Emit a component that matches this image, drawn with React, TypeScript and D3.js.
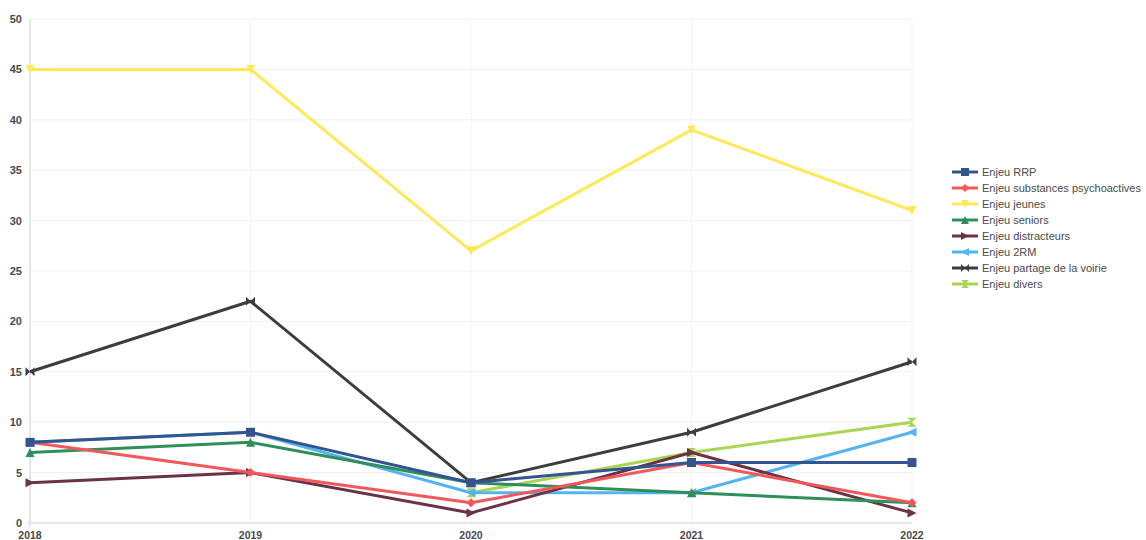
import React from "react";
import * as d3 from "d3";

const years = ["2018", "2019", "2020", "2021", "2022"];
const yTicks = [0, 5, 10, 15, 20, 25, 30, 35, 40, 45, 50];

const rrp = [8, 9, 4, 6, 6];
const substances = [8, 5, 2, 6, 2];
const jeunes = [45, 45, 27, 39, 31];
const seniors = [7, 8, 4, 3, 2];
const distracteurs = [4, 5, 1, 7, 1];
const deuxRM = [8, 9, 3, 3, 9];
const partage = [15, 22, 4, 9, 16];
const divers: (number | null)[] = [null, null, 3, 7, 10];

type Shape = "square" | "diamond" | "down" | "up" | "right" | "left" | "bowtie" | "hourglass";

const series: { name: string; values: (number | null)[]; color: string; shape: Shape }[] = [
  { name: "Enjeu RRP", values: rrp, color: "#34548f", shape: "square" },
  { name: "Enjeu substances psychoactives", values: substances, color: "#f2585a", shape: "diamond" },
  { name: "Enjeu jeunes", values: jeunes, color: "#fde95a", shape: "down" },
  { name: "Enjeu seniors", values: seniors, color: "#2f8e5a", shape: "up" },
  { name: "Enjeu distracteurs", values: distracteurs, color: "#6a3346", shape: "right" },
  { name: "Enjeu 2RM", values: deuxRM, color: "#53b5ee", shape: "left" },
  { name: "Enjeu partage de la voirie", values: partage, color: "#3d3d3d", shape: "bowtie" },
  { name: "Enjeu divers", values: divers, color: "#a9d552", shape: "hourglass" },
];

function markerPath(shape: Shape, s: number): string {
  const h = s / 2;
  switch (shape) {
    case "square":
      return `M${-h},${-h}H${h}V${h}H${-h}Z`;
    case "diamond":
      return `M0,${-h}L${h},0L0,${h}L${-h},0Z`;
    case "down":
      return `M${-h},${-h}H${h}L0,${h}Z`;
    case "up":
      return `M${-h},${h}H${h}L0,${-h}Z`;
    case "right":
      return `M${-h},${-h}L${h},0L${-h},${h}Z`;
    case "left":
      return `M${h},${-h}L${-h},0L${h},${h}Z`;
    case "bowtie":
      return `M${-h},${-h}L${h},${h}V${-h}L${-h},${h}Z`;
    case "hourglass":
      return `M${-h},${-h}H${h}L${-h},${h}H${h}Z`;
  }
}

export default function App() {
  const width = 1146;
  const height = 540;
  const x = d3.scalePoint<string>().domain(years).range([30, 912]);
  const y = d3.scaleLinear().domain([0, 50]).range([523, 19]);

  const line = d3
    .line<number | null>()
    .defined((d) => d !== null)
    .x((_, i) => x(years[i]) as number)
    .y((d) => y(d as number));

  const font = "'Liberation Sans', Arial, sans-serif";
  // first series ends up on top
  const drawOrder = [...series].reverse();

  return (
    <svg
      width={width}
      height={height}
      style={{ position: "absolute", left: 0, top: 0, background: "#fff" }}
      fontFamily={font}
    >
      {/* grid */}
      {yTicks.map((t) => (
        <line key={"gy" + t} x1={30} x2={912} y1={y(t)} y2={y(t)} stroke="#efefef" strokeWidth={1} />
      ))}
      {years.map((yr) => (
        <line key={"gx" + yr} x1={x(yr)} x2={x(yr)} y1={19} y2={523} stroke="#f3f3f3" strokeWidth={1} />
      ))}
      <line x1={30} x2={30} y1={19} y2={526} stroke="#d4d4d4" strokeWidth={1} />
      <line x1={27} x2={912} y1={523} y2={523} stroke="#d8d8d8" strokeWidth={1} />

      {/* y tick labels */}
      {yTicks.map((t) => (
        <text
          key={"ty" + t}
          x={22}
          y={y(t) + 4}
          textAnchor="end"
          fontSize={11}
          fontWeight="bold"
          fill="#4a4a4a"
        >
          {t}
        </text>
      ))}
      {/* x tick labels */}
      {years.map((yr) => (
        <text
          key={"tx" + yr}
          x={x(yr)}
          y={539}
          textAnchor="middle"
          fontSize={10.5}
          fontWeight="bold"
          fill="#4a4a4a"
        >
          {yr}
        </text>
      ))}

      {/* series lines and markers */}
      {drawOrder.map((s) => (
        <g key={s.name}>
          <path d={line(s.values) || ""} fill="none" stroke={s.color} strokeWidth={3} strokeLinejoin="round" />
          {s.values.map((v, i) =>
            v === null ? null : (
              <path
                key={i}
                d={markerPath(s.shape, 9)}
                transform={`translate(${x(years[i])},${y(v)})`}
                fill={s.color}
              />
            )
          )}
        </g>
      ))}

      {/* legend */}
      {series.map((s, i) => {
        const ly = 172 + i * 16;
        return (
          <g key={"lg" + s.name}>
            <line x1={952} x2={978} y1={ly} y2={ly} stroke={s.color} strokeWidth={3} />
            <path d={markerPath(s.shape, 8)} transform={`translate(965,${ly})`} fill={s.color} />
            <text x={982} y={ly + 4} fontSize={11} fill="#4a4a4a">
              {s.name}
            </text>
          </g>
        );
      })}
    </svg>
  );
}
